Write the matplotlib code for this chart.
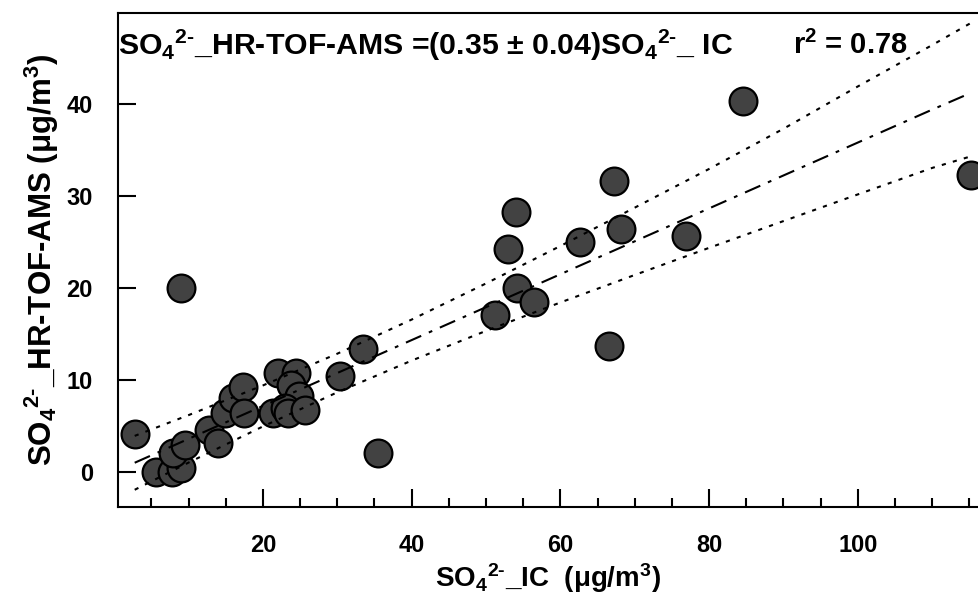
import numpy as np
import matplotlib
matplotlib.use("Agg")
import matplotlib.pyplot as plt
from matplotlib.ticker import MultipleLocator

plt.rcParams['font.family'] = ['Liberation Sans', 'DejaVu Sans']
plt.rcParams['font.weight'] = 'bold'
plt.rcParams['axes.labelweight'] = 'bold'
plt.rcParams['mathtext.fontset'] = 'custom'
plt.rcParams['mathtext.rm'] = 'Liberation Sans:bold'
plt.rcParams['mathtext.bf'] = 'Liberation Sans:bold'
plt.rcParams['mathtext.default'] = 'bf'

# SO4 from IC vs HR-TOF-AMS (ug/m3)
so4_ic = [2.75, 5.65, 7.7, 9.0, 7.9, 9.5, 12.8, 14.0, 14.85, 16.0, 17.3, 17.4,
          9.0, 22.0, 24.5, 23.8, 24.9, 21.3, 22.9, 23.4, 25.6, 30.4, 33.5, 35.5,
          51.2, 52.9, 54.0, 54.2, 56.4, 62.7, 66.5, 67.2, 68.2, 76.9, 84.6, 115.2]
so4_ams = [4.1, 0.0, 0.0, 0.4, 2.0, 2.9, 4.5, 3.1, 6.35, 8.0, 9.25, 6.35,
           20.0, 10.7, 10.7, 9.4, 8.2, 6.4, 6.9, 6.4, 6.7, 10.4, 13.4, 2.0,
           17.1, 24.2, 28.2, 20.0, 18.5, 25.0, 13.7, 31.6, 26.4, 25.6, 40.3, 32.3]

# fit line and confidence band
band_x = [2.75, 10, 20, 30, 40, 50, 60, 70, 80, 90, 100, 110, 115.2]
fit_y = [0.98, 3.58, 7.16, 10.74, 14.32, 17.9, 21.48, 25.06, 28.64, 32.22, 35.8, 39.38, 41.2]
upper_y = [3.9, 6.16, 9.39, 12.84, 16.55, 20.48, 24.55, 28.72, 32.93, 37.3, 41.9, 46.4, 48.8]
lower_y = [-1.96, 1.0, 4.93, 8.64, 12.09, 15.32, 18.41, 21.4, 24.35, 27.26, 30.16, 33.04, 34.3]

so4 = r'SO$_\mathbf{4}$$^{\mathbf{2}\text{-}}$'
eq_text = so4 + r'_HR-TOF-AMS =(0.35 $\pm$ 0.04)' + so4 + r'_ IC'
r2_text = r'r$^\mathbf{2}$ = 0.78'

fig = plt.figure(figsize=(9.79, 6), dpi=100)
ax = fig.add_axes([0.1205, 0.1555, 0.8795, 0.823])

ax.scatter(so4_ic, so4_ams, s=400, c='#424242', edgecolors='black', linewidths=1.6, zorder=2)
ax.plot(band_x, fit_y, color='black', lw=1.5, dashes=(8, 4, 1.8, 4), zorder=3)
ax.plot(band_x, upper_y, color='black', lw=1.5, dashes=(2, 3.5), zorder=3)
ax.plot(band_x, lower_y, color='black', lw=1.5, dashes=(2, 3.5), zorder=3)

ax.set_xlim(0.5, 116.3)
ax.set_ylim(-3.8, 49.9)
ax.xaxis.set_major_locator(MultipleLocator(20))
ax.xaxis.set_minor_locator(MultipleLocator(5))
ax.yaxis.set_major_locator(MultipleLocator(10))
ax.tick_params(axis='both', which='major', direction='in', length=13, width=1.5,
               labelsize=17)
ax.tick_params(axis='x', which='major', pad=20)
ax.tick_params(axis='y', which='major', pad=18)
ax.tick_params(axis='x', which='minor', direction='in', length=6.5, width=1.5)
for lab in ax.get_xticklabels() + ax.get_yticklabels():
    lab.set_fontweight('bold')

for side in ['left', 'bottom', 'top']:
    ax.spines[side].set_linewidth(1.5)
ax.spines['right'].set_visible(False)

ax.set_xlabel(so4 + r'_IC  ($\mu$g/m$^\mathbf{3}$)', fontsize=20, labelpad=3)
ax.set_ylabel(so4 + r'_HR-TOF-AMS ($\mu$g/m$^\mathbf{3}$)', fontsize=22.5, labelpad=4)

ax.text(0.0, 0.935, eq_text, transform=ax.transAxes, fontsize=21.8, va='center', ha='left')
ax.text(0.85, 0.935, r2_text, transform=ax.transAxes, fontsize=21, va='center', ha='center')

fig.savefig('out.png', dpi=100)
